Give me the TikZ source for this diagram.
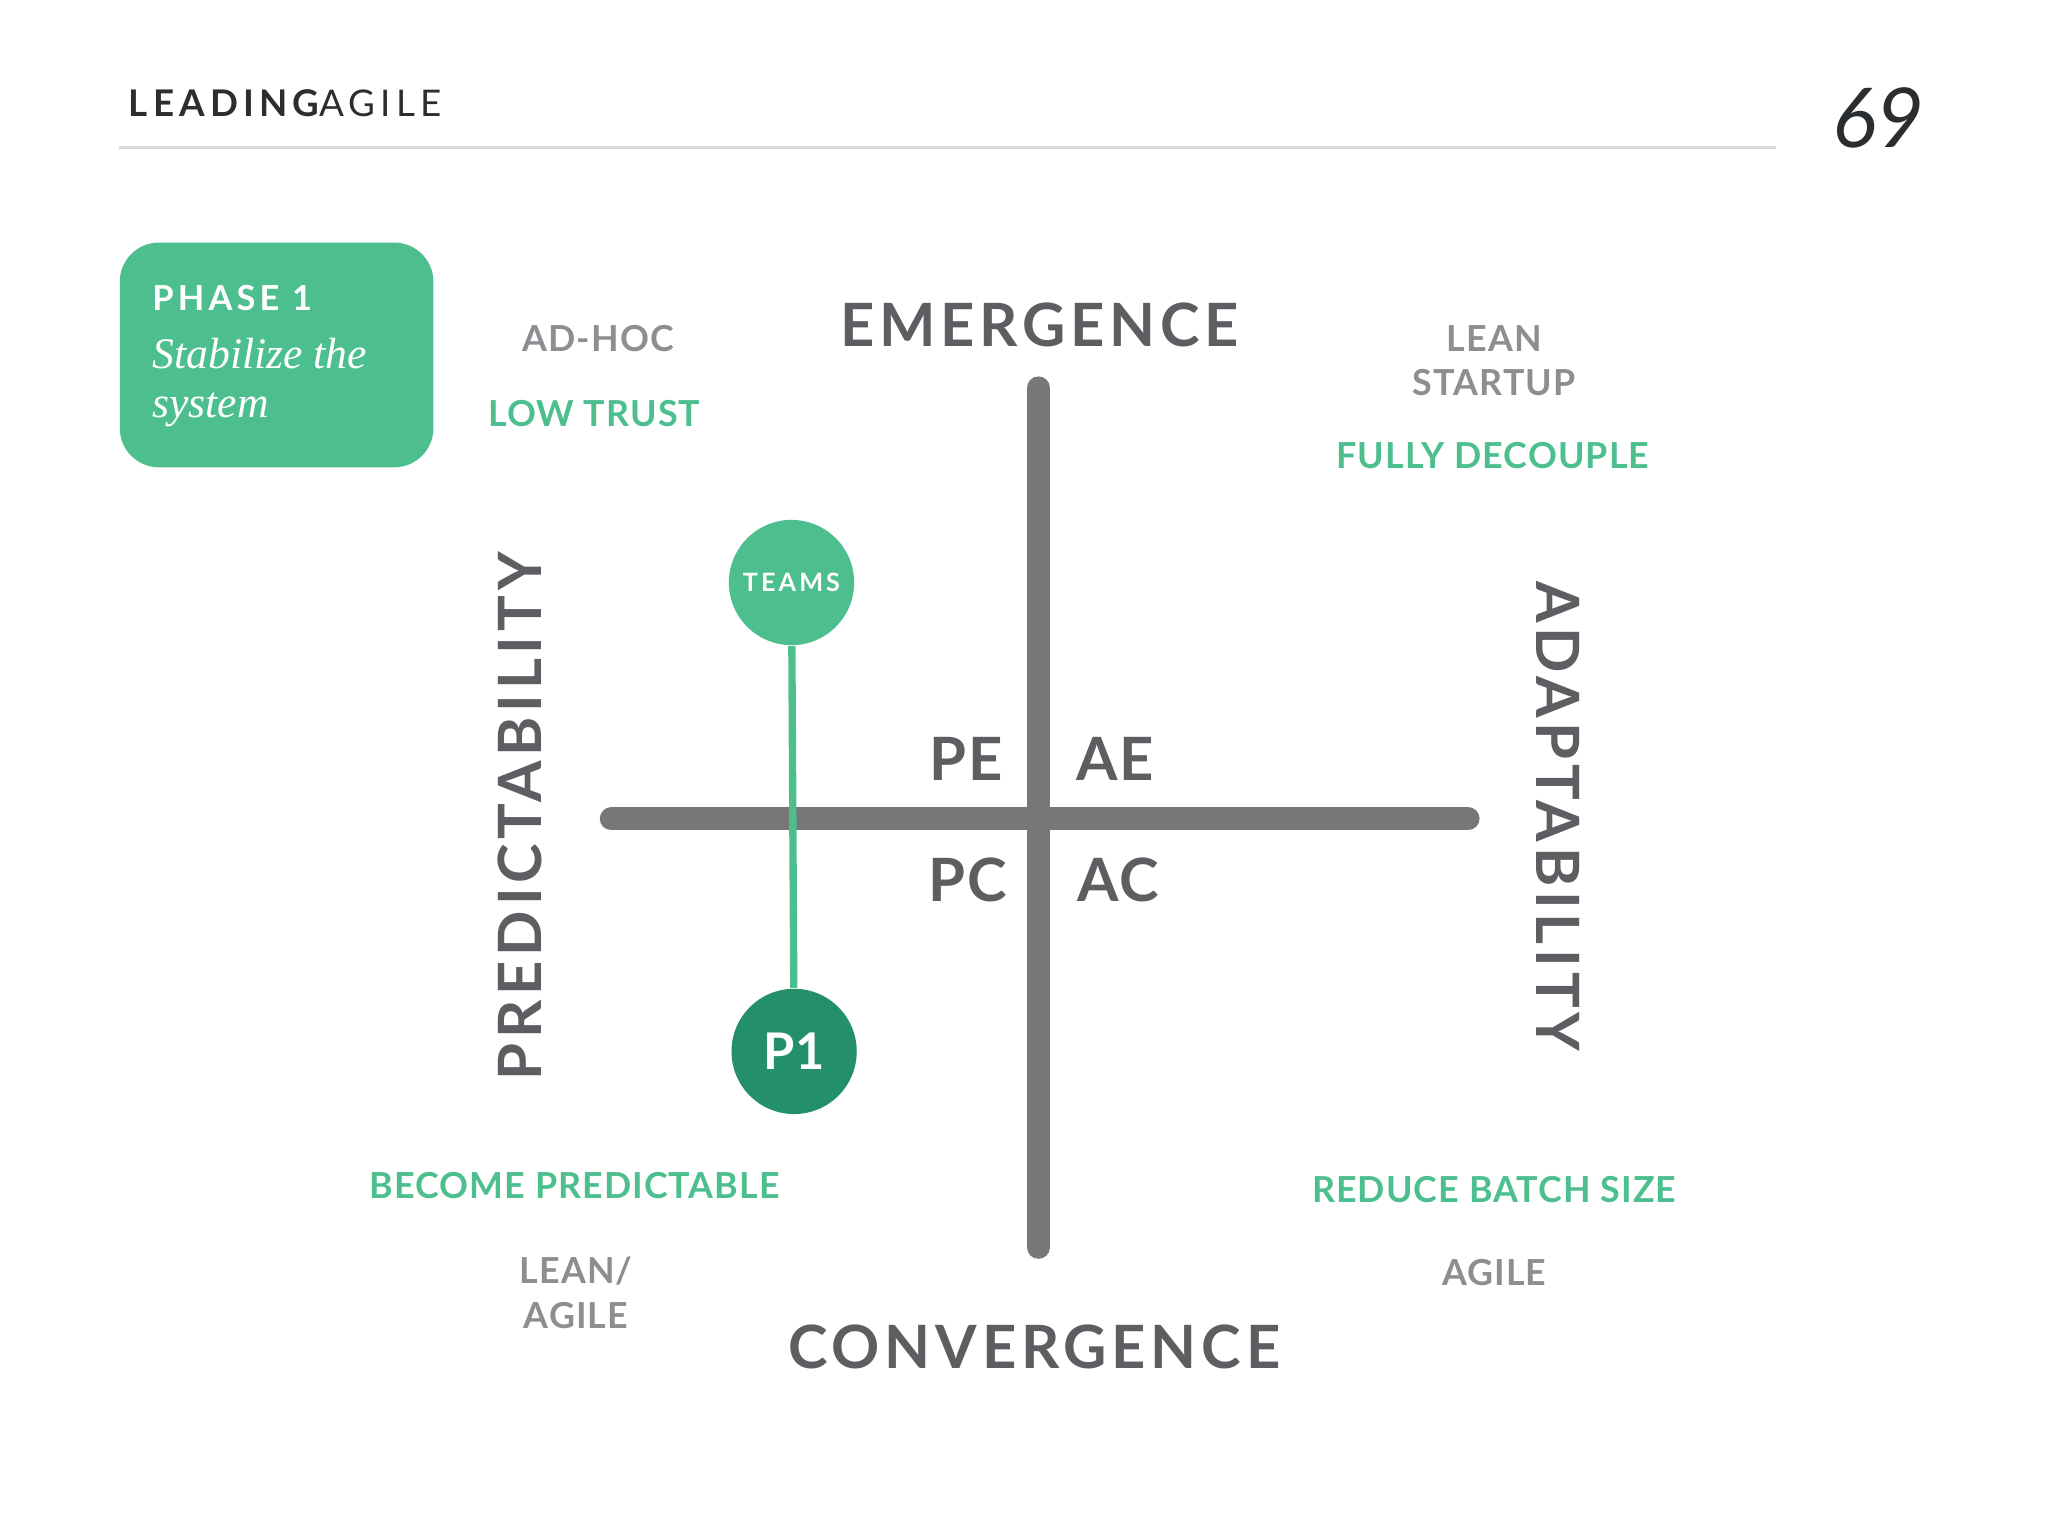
\documentclass[tikz,border=0pt]{standalone}
\usepackage{fontspec}
\setmainfont{Lato}
\newfontfamily\wideaxis[LetterSpace=8]{Lato}
\newfontfamily\spb[LetterSpace=3]{Lato}
\newfontfamily\serifit{Liberation Serif}
\definecolor{lg}{HTML}{4DBF8F}
\definecolor{dg}{HTML}{23906A}
\definecolor{bar}{HTML}{77777A}
\definecolor{big}{HTML}{5E5E62}
\definecolor{sm}{HTML}{8E8E92}
\definecolor{hd}{HTML}{2B2E30}
\tikzset{
  glab/.style={text=lg,font=\spb\bfseries\fontsize{7.8}{9}\selectfont,align=center},
  slab/.style={text=sm,font=\spb\bfseries\fontsize{7.8}{9.7}\selectfont,align=center},
  axis/.style={text=big,font=\wideaxis\bfseries\fontsize{13}{15}\selectfont},
  quad/.style={text=big,font=\spb\bfseries\fontsize{13}{15}\selectfont},
  bar/.style={draw=bar,line width=5pt,line cap=round},
  circ/.style={circle,minimum size=2.7cm*0.355,inner sep=0pt,text=white}
}
\begin{document}
\begin{tikzpicture}[x=0.01cm,y=-0.01cm]
\useasboundingbox[fill=white] (0,0) rectangle (1568,1176);
\node[anchor=west,text=hd,inner sep=0] (logo) at (98,79) {\fontspec[LetterSpace=14]{Lato}\fontsize{8}{9}\selectfont\bfseries LEADING\mdseries AGILE};
\draw[draw=black!15,line width=0.6pt] (91,113) -- (1360,113);
\node[text=hd,inner sep=0] (pg) at (1438,90) {\fontsize{18}{20}\selectfont\itshape 69};
\node[fill=lg,rounded corners=0.3cm,minimum width=2.4cm,minimum height=1.72cm,anchor=north west] (phase) at (91,185) {};
\node[anchor=west,text=white,inner sep=0] (ph1) at (116,228) {\fontspec[LetterSpace=12]{Lato}\bfseries\fontsize{7.5}{9}\selectfont PHASE 1};
\node[anchor=north west,text=white,inner sep=0,align=left,font=\serifit\itshape\fontsize{9.5}{10.8}\selectfont] (stab) at (116,258) {Stabilize the\\system};
\node[slab] (adhoc) at (458,259) {AD-HOC};
\node[glab] (lowtrust) at (455,317) {LOW TRUST};
\node[axis] (em) at (796,249) {EMERGENCE};
\node[slab] (lean) at (1144,276) {LEAN\\STARTUP};
\node[glab] (fd) at (1143,349) {FULLY DECOUPLE};
\coordinate (vt) at (795,297); \coordinate (vb) at (795,955);
\coordinate (hl) at (468,627); \coordinate (hr) at (1124,627);
\draw[bar] (vt) -- (vb);
\draw[bar] (hl) -- (hr);
\node[axis,rotate=90] (pred) at (398,625) {PREDICTABILITY};
\node[axis,rotate=-90] (adapt) at (1193,625) {ADAPTABILITY};
\node[quad] (pe) at (740,581) {PE};
\node[quad] (ae) at (854,581) {AE};
\node[quad] (pc) at (741,674) {PC};
\node[quad] (ac) at (856,674) {AC};
\node[circ,fill=lg] (teams) at (606,446) {\fontspec[LetterSpace=12]{Lato}\bfseries\fontsize{5.5}{6}\selectfont TEAMS};
\node[circ,fill=dg] (p1) at (608,805) {\bfseries\fontsize{11}{13}\selectfont P1};
\draw[draw=lg,line width=1.6pt] (teams) -- (p1);
\node[glab] (bp) at (440,908) {BECOME PREDICTABLE};
\node[slab] (la) at (441,990) {LEAN/\\AGILE};
\node[glab] (rb) at (1144,911) {REDUCE BATCH SIZE};
\node[slab] (ag) at (1144,974) {AGILE};
\node[axis] (conv) at (792,1031) {CONVERGENCE};
\end{tikzpicture}
\end{document}
